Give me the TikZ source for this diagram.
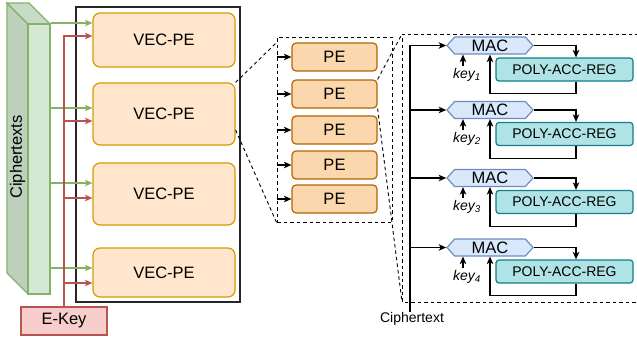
\documentclass[tikz,border=0pt]{standalone}
\usepackage{fontspec}
\setmainfont{Liberation Sans}
\usetikzlibrary{arrows.meta,shapes.symbols,calc}

\definecolor{vecfill}{HTML}{FFE6CC}
\definecolor{vecdraw}{HTML}{D79B00}
\definecolor{pefill}{HTML}{FAD7AC}
\definecolor{pedraw}{HTML}{B46504}
\definecolor{polyfill}{HTML}{B0E3E6}
\definecolor{polydraw}{HTML}{0E8088}
\definecolor{macfill}{HTML}{DAE8FC}
\definecolor{macdraw}{HTML}{6C8EBF}
\definecolor{keyfill}{HTML}{F8CECC}
\definecolor{keydraw}{HTML}{B85450}
\definecolor{ctfill}{HTML}{D5E8D4}
\definecolor{ctside}{HTML}{BDD0BC}
\definecolor{cttop}{HTML}{C8DBC7}
\definecolor{ctdraw}{HTML}{82B366}

\tikzset{
  big/.style={font=\fontsize{16.5}{18}\selectfont},
  small/.style={font=\fontsize{14}{16}\selectfont},
  vecbox/.style={big, draw=vecdraw, fill=vecfill, line width=1.2pt, rounded corners=7pt,
    minimum width=142pt, inner sep=0pt},
  pebox/.style={big, draw=pedraw, fill=pefill, line width=1.2pt, rounded corners=4pt,
    minimum width=85pt, minimum height=28pt, inner sep=0pt},
  polybox/.style={small, draw=polydraw, fill=polyfill, line width=1.2pt, rounded corners=3pt,
    minimum width=137pt, minimum height=23pt, inner sep=0pt},
  macbox/.style={big, signal, signal to=west and east, signal pointer angle=96,
    draw=macdraw, fill=macfill, line width=1.2pt, minimum width=86pt, minimum height=17pt,
    inner sep=0pt},
  ekbox/.style={big, draw=keydraw, fill=keyfill, line width=1.2pt,
    minimum width=86pt, minimum height=28pt, inner sep=0pt},
  zoomline/.style={draw=black, line width=0.9pt, dash pattern=on 3.5pt off 3pt},
  tip/.style={-{Stealth[length=7.5pt,width=6.5pt,inset=2pt]}},
  arr/.style={draw=black, line width=1.1pt, tip},
  garr/.style={draw=ctdraw, line width=1.2pt, tip},
  rarr/.style={draw=keydraw, line width=1.2pt, tip},
}

\begin{document}
\begin{tikzpicture}[x=1pt,y=-1pt]
\useasboundingbox (0,0) rectangle (637,343);
\clip (0,0) rectangle (637,343);

% --- Ciphertexts block (drawn as a box with depth) ---
\filldraw[fill=ctside, draw=ctdraw, line width=1.2pt] (7,3) -- (28,24) -- (28,294) -- (7,273) -- cycle;
\filldraw[fill=cttop, draw=ctdraw, line width=1.2pt] (7,3) -- (29,3) -- (50,24) -- (28,24) -- cycle;
\node[draw=ctdraw, fill=ctfill, line width=1.2pt, minimum width=22pt, minimum height=270pt,
  inner sep=0pt] (ct) at (39,159) {};
\node[big, rotate=90] (ctlabel) at (17.5,157) {Ciphertexts};

% --- outer frame with the vector PEs ---
\node[draw=black!85, line width=1.4pt, minimum width=164pt, minimum height=295pt,
  inner sep=0pt] (frame) at (158,154.5) {};
\node[vecbox, minimum height=54pt] (v1) at (164,40) {VEC-PE};
\node[vecbox, minimum height=62pt] (v2) at (164,114) {VEC-PE};
\node[vecbox, minimum height=62pt] (v3) at (164,194) {VEC-PE};
\node[vecbox, minimum height=49pt] (v4) at (164,272.5) {VEC-PE};

\node[ekbox] (ek) at (64,321) {E-Key};

% green (ciphertext) and red (key) inputs
\foreach \v/\g/\r in {v1/23/36, v2/108/121, v3/183/198, v4/268/283} {
  \coordinate (g-\v) at (\v.west |- 0,\g);
  \coordinate (r-\v) at (\v.west |- 0,\r);
  \draw[garr] (ct.east |- g-\v) -- (g-\v);
}
\draw[rarr] (ek.north) -- (ek.north |- r-v1) -- (r-v1);
\foreach \v in {v2,v3,v4} {
  \draw[rarr] (ek.north |- r-\v) -- (r-\v);
}

% --- PE array ---
\node[zoomline, minimum width=115pt, minimum height=185pt, inner sep=0pt] (pegroup) at (334.5,129.5) {};
\foreach \i/\y in {1/57, 2/94, 3/130, 4/165, 5/199} {
  \node[pebox] (pe\i) at (334.5,\y) {PE};
  \draw[arr] (pegroup.west |- pe\i.west) -- (pe\i.west);
}
\draw[zoomline] (v2.north east) -- ($(pegroup.north west)+(0,6)$);
\draw[zoomline] ($(v2.east)+(0,16)$) -- (pegroup.south west);

% --- MAC detail ---
\coordinate (dtl) at (402,34);
\coordinate (dbl) at (402,302);
\draw[zoomline] (645,34) -- (dtl) -- (dbl) -- (645,302);
\draw[zoomline] (pe2.north east) -- (dtl);
\draw[zoomline] (pe2.south east) -- (dbl);

\foreach \i/\y in {1/45.5, 2/110, 3/178, 4/247.5} {
  \node[macbox] (mac\i) at (490,\y) {MAC};
  \node[polybox] (poly\i) at (564.5,\y+24) {POLY-ACC-REG};
  \draw[arr] (mac\i.east) -| ($(poly\i.north)+(11.5,0)$);
  \draw[arr] ($(poly\i.south)+(11.5,0)$) -- ++(0,12) -| (mac\i.south);
  \coordinate (k\i) at ($(mac\i.south)+(-27,11)$);
  \draw[arr] (k\i) -- (k\i |- mac\i.south);
  \node[small, inner sep=0pt] (key\i) at ($(mac\i.south)+(-23,20)$) {\textit{key\textsubscript{\i}}};
}

\node[small, inner sep=0pt] (ctx) at (412,319) {Ciphertext};
\coordinate (cbot) at (410,312);
\draw[arr] (cbot) |- (mac1.west);
\foreach \i in {2,3,4} {
  \draw[arr] (cbot |- mac\i.west) -- (mac\i.west);
}
\end{tikzpicture}
\end{document}
